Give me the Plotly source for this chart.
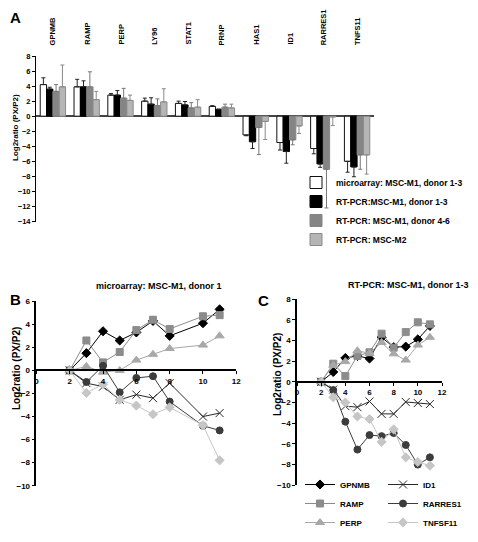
import plotly.graph_objects as go

W, H = 478, 542
FONT = "Liberation Sans, Arial, sans-serif"

# ---------------- Panel A data ----------------
genes = ["GPNMB", "RAMP", "PERP", "LY96", "STAT1", "PRNP", "HAS1", "ID1", "RARRES1", "TNFS11"]
micro_m1 = [4.2, 3.9, 2.8, 2.0, 1.7, 1.3, -2.5, -3.5, -4.3, -6.0]
micro_m1_err = [0.9, 1.0, 0.2, 0.4, 0.3, 0.1, 0.1, 1.0, 0.7, 1.45]
pcr_m1_13 = [3.6, 3.9, 2.8, 1.6, 1.5, 0.9, -3.4, -4.7, -6.35, -6.75]
pcr_m1_13_err = [0.25, 0.8, 0.6, 0.85, 0.45, 0.05, 0.9, 1.55, 0.45, 1.3]
pcr_m1_46 = [3.3, 3.9, 2.4, 1.4, 1.1, 1.2, -1.5, -3.15, -7.05, -5.15]
pcr_m1_46_err = [0.9, 2.0, 1.3, 0.9, 0.7, 0.4, 3.6, 0.65, 5.15, 1.9]
pcr_m2 = [3.9, 2.2, 2.1, 1.9, 1.2, 1.1, -0.7, -1.3, -0.1, -5.15]
pcr_m2_err = [2.9, 1.1, 0.7, 1.75, 1.0, 0.5, 2.4, 1.0, 1.15, 2.55]

bar_names = ["microarray: MSC-M1, donor 1-3", "RT-PCR:MSC-M1, donor 1-3",
             "RT-PCR: MSC-M1, donor 4-6", "RT-PCR: MSC-M2"]

# ---------------- Panel B / C data ----------------
series_names = ["GPNMB", "RAMP", "PERP", "ID1", "RARRES1", "TNFSF11"]

x_b = [2, 3, 4, 5, 6, 7, 8, 10, 11]
gpnmb_b = [0, 1.5, 3.4, 2.6, 3.3, 4.3, 3.0, 4.1, 5.3]
ramp_b = [0, 2.6, 0.7, 1.6, 3.5, 4.4, 3.6, 4.7, 4.8]
perp_b = [0, 0.35, -0.15, 0.0, 0.9, 1.4, 1.9, 2.2, 3.0]
id1_b = [0, -1.1, -1.4, -2.55, -2.1, -2.4, -1.1, -4.0, -3.7]
rarres1_b = [0, -1.0, 0.4, -1.9, -0.65, -0.5, -2.7, -4.8, -5.2]
tnfsf11_b = [0, -1.95, -1.2, -2.55, -3.05, -3.8, -3.2, -4.75, -7.8]

x_c = [2, 3, 4, 5, 6, 7, 8, 9, 10, 11]
gpnmb_c = [0, 0.95, 2.3, 2.5, 2.25, 4.3, 3.35, 3.4, 4.1, 5.4]
ramp_c = [0, 1.75, 0.55, 2.5, 2.85, 4.65, 3.3, 4.8, 5.75, 5.55]
perp_c = [0, 1.6, 1.95, 3.0, 2.75, 3.8, 2.7, 2.1, 3.55, 4.3]
id1_c = [0, -0.75, -2.35, -2.45, -1.9, -3.1, -3.1, -1.95, -2.05, -2.15]
rarres1_c = [0, -0.8, -3.85, -6.55, -5.15, -5.25, -4.95, -6.1, -8.0, -7.3]
tnfsf11_c = [0, -1.5, -2.0, -3.35, -3.6, -5.8, -4.6, -7.3, -7.75, -8.1]

# ---------------- helpers ----------------
def px_x(p):
    return p / W

def px_y(p):
    return 1 - p / H

fig = go.Figure()

bar_styles = [
    dict(color="white", line=dict(color="#111111", width=1), err="#222222"),
    dict(color="#000000", line=dict(color="#000000", width=1), err="#222222"),
    dict(color="#858585", line=dict(color="#858585", width=1), err="#777777"),
    dict(color="#b5b5b5", line=dict(color="#8a8a8a", width=1), err="#8a8a8a"),
]
bar_vals = [micro_m1, pcr_m1_13, pcr_m1_46, pcr_m2]
bar_errs = [micro_m1_err, pcr_m1_13_err, pcr_m1_46_err, pcr_m2_err]

for name, vals, errs, st in zip(bar_names, bar_vals, bar_errs, bar_styles):
    plus = [e if v >= 0 else 0 for v, e in zip(vals, errs)]
    minus = [e if v < 0 else 0 for v, e in zip(vals, errs)]
    fig.add_trace(go.Bar(
        x=genes, y=vals, name=name,
        marker=dict(color=st["color"], line=st["line"]),
        error_y=dict(type="data", symmetric=False, array=plus, arrayminus=minus,
                     color=st["err"], thickness=1, width=2),
        xaxis="x", yaxis="y", legend="legend",
    ))

line_styles = [
    dict(color="#000000", symbol="diamond", size=7),
    dict(color="#8c8c8c", symbol="square", size=7),
    dict(color="#a8a8a8", symbol="triangle-up", size=8),
    dict(color="#2a2a2a", symbol="x-thin-open", size=8),
    dict(color="#3c3c3c", symbol="circle", size=7),
    dict(color="#c6c6c6", symbol="diamond", size=7),
]
b_series = [gpnmb_b, ramp_b, perp_b, id1_b, rarres1_b, tnfsf11_b]
c_series = [gpnmb_c, ramp_c, perp_c, id1_c, rarres1_c, tnfsf11_c]

for name, yv, st in zip(series_names, b_series, line_styles):
    fig.add_trace(go.Scatter(
        x=x_b, y=yv, name=name, mode="lines+markers",
        line=dict(color=st["color"], width=1),
        marker=dict(symbol=st["symbol"], size=st["size"], color=st["color"],
                    line=dict(color=st["color"], width=1)),
        xaxis="x2", yaxis="y2", showlegend=False,
    ))

for i, (name, yv, st) in enumerate(zip(series_names, c_series, line_styles)):
    fig.add_trace(go.Scatter(
        x=x_c, y=yv, name=name, mode="lines+markers",
        line=dict(color=st["color"], width=1),
        marker=dict(symbol=st["symbol"], size=st["size"], color=st["color"],
                    line=dict(color=st["color"], width=1)),
        xaxis="x3", yaxis="y3", legend="legend2" if i < 3 else "legend3",
    ))

tick_a = dict(family=FONT, size=7.5, color="black", weight="bold")
tick_bc = dict(family=FONT, size=8, color="black", weight="bold")

# Panel geometry in pixels
A_x0, A_x1, A_yt, A_yb = 28, 366, 48, 213.5
B_x0, B_x1, B_yt, B_yb = 28.4, 228.3, 293.3, 477.7
C_x0, C_x1, C_yt, C_yb = 289, 434, 291, 477.3
B_zero = B_yt + 6 * (B_yb - B_yt) / 16
C_zero = C_yt + 8 * (C_yb - C_yt) / 18

leg_font = dict(family=FONT, size=8.5, weight="bold")
leg_font_c = dict(family=FONT, size=8, weight="bold")

fig.update_layout(
    width=W, height=H,
    margin=dict(l=0, r=0, t=0, b=0, autoexpand=False),
    paper_bgcolor="white", plot_bgcolor="white",
    font=dict(family=FONT, color="black"),
    barmode="group", bargap=0.25, bargroupgap=0.0,
    showlegend=True,
    xaxis=dict(domain=[px_x(A_x0), px_x(A_x1)], anchor="y", type="category",
               categoryorder="array", categoryarray=genes,
               showticklabels=False, showline=False, ticks="", showgrid=False, zeroline=False),
    yaxis=dict(domain=[px_y(A_yb), px_y(A_yt)], anchor="x", range=[-14, 8], dtick=2, tick0=0,
               showline=True, linecolor="black", linewidth=1, ticks="outside", ticklen=3,
               tickcolor="black", tickfont=tick_a, showgrid=False,
               zeroline=True, zerolinecolor="#444444", zerolinewidth=1.5),
    xaxis2=dict(domain=[px_x(B_x0), px_x(B_x1)], anchor="free", position=px_y(B_zero),
                range=[0, 12], dtick=2, tick0=0, showline=True, linecolor="black", linewidth=1.5,
                ticks="outside", ticklen=3, tickcolor="black", tickfont=tick_bc,
                showgrid=False, zeroline=False),
    yaxis2=dict(domain=[px_y(B_yb), px_y(B_yt)], anchor="x2", range=[-10, 6], dtick=2, tick0=0,
                showline=True, linecolor="black", linewidth=1.5, ticks="outside", ticklen=3,
                tickcolor="black", tickfont=tick_bc, showgrid=False, zeroline=False),
    xaxis3=dict(domain=[px_x(C_x0), px_x(C_x1)], anchor="free", position=px_y(C_zero),
                range=[0, 12], dtick=2, tick0=0, showline=True, linecolor="black", linewidth=1.5,
                ticks="outside", ticklen=3, tickcolor="black", tickfont=tick_bc,
                showgrid=False, zeroline=False),
    yaxis3=dict(domain=[px_y(C_yb), px_y(C_yt)], anchor="x3", range=[-10, 8], dtick=2, tick0=0,
                showline=True, linecolor="black", linewidth=1.5, ticks="outside", ticklen=3,
                tickcolor="black", tickfont=tick_bc, showgrid=False, zeroline=False),
    legend=dict(x=px_x(288), y=px_y(160), xanchor="left", yanchor="top",
                bgcolor="rgba(0,0,0,0)", font=leg_font, tracegroupgap=0, itemwidth=30),
    legend2=dict(x=px_x(292), y=px_y(462), xanchor="left", yanchor="top",
                 bgcolor="rgba(0,0,0,0)", font=leg_font_c, tracegroupgap=0, itemwidth=30),
    legend3=dict(x=px_x(375), y=px_y(462), xanchor="left", yanchor="top",
                 bgcolor="rgba(0,0,0,0)", font=leg_font_c, tracegroupgap=0, itemwidth=30),
)

annotations = []
# Panel letters
for letter, (lx, ly) in {"A": (7, 10), "B": (8, 291), "C": (255, 292)}.items():
    annotations.append(dict(text=letter, x=px_x(lx), y=px_y(ly), xref="paper", yref="paper",
                            showarrow=False, xanchor="center", yanchor="middle",
                            font=dict(family=FONT, size=15, weight="bold")))
# Gene labels over panel A
for g in genes:
    annotations.append(dict(text=g, x=g, xref="x", y=px_y(39), yref="paper", textangle=-90,
                            showarrow=False, xanchor="center", yanchor="bottom",
                            font=dict(family=FONT, size=7.5, weight="bold")))
# Y titles
for (tx, ty, fs) in [(7, 120, 8), (8, 361, 10), (269, 367, 10)]:
    annotations.append(dict(text="Log2ratio (PX/P2)", x=px_x(tx), y=px_y(ty), xref="paper",
                            yref="paper", textangle=-90, showarrow=False,
                            xanchor="center", yanchor="middle",
                            font=dict(family=FONT, size=fs, weight="bold")))
# Panel titles
annotations.append(dict(text="microarray: MSC-M1, donor 1", x=px_x(151), y=px_y(277.5),
                        xref="paper", yref="paper", showarrow=False, xanchor="center",
                        yanchor="middle", font=dict(family=FONT, size=9, weight="bold")))
annotations.append(dict(text="RT-PCR: MSC-M1, donor 1-3", x=px_x(400), y=px_y(277),
                        xref="paper", yref="paper", showarrow=False, xanchor="center",
                        yanchor="middle", font=dict(family=FONT, size=9, weight="bold")))
fig.update_layout(annotations=annotations)

fig.write_html("out.html", config={"displayModeBar": False})
